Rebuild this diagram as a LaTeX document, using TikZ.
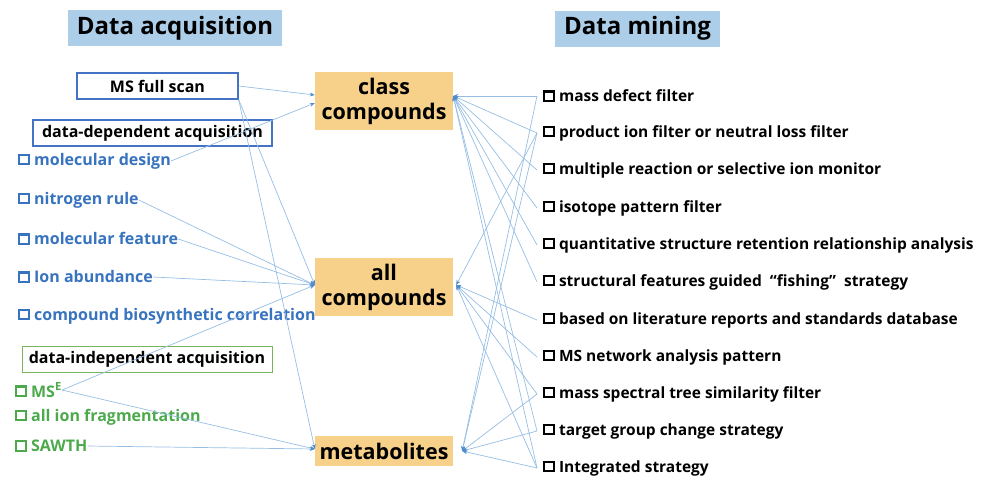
\documentclass[tikz,border=0pt]{standalone}
\usepackage{fontspec}
\setmainfont{Open Sans}
\usetikzlibrary{arrows.meta}
\definecolor{titlebg}{RGB}{173,206,232}
\definecolor{midbg}{RGB}{247,208,138}
\definecolor{bluetxt}{RGB}{55,115,190}
\definecolor{greentxt}{RGB}{76,170,76}
\definecolor{blueframe}{RGB}{68,114,196}
\definecolor{greenframe}{RGB}{120,180,90}
\definecolor{linkc}{RGB}{150,190,228}
\definecolor{tipc}{RGB}{80,140,205}
\newcommand{\sqmark}{\raisebox{0.12em}{\fboxsep=0pt\fboxrule=2.2pt\fbox{\rule{0pt}{7.4pt}\hspace{7.4pt}}}}
\begin{document}
\begin{tikzpicture}[x=1pt,y=-1pt,
  titlebox/.style={fill=titlebg, minimum height=36pt, inner sep=0pt, font=\bfseries\fontsize{24}{28}\selectfont},
  midbox/.style={fill=midbg, inner sep=0pt, align=center, minimum width=138pt, font=\bfseries\fontsize{21.5}{25}\selectfont},
  framebox/.style={draw=blueframe, line width=1.4pt, inner sep=0pt, minimum height=26pt, font=\bfseries\fontsize{16}{18}\selectfont},
  greenbox/.style={draw=greenframe, line width=1pt, inner sep=0pt, minimum height=26pt, font=\bfseries\fontsize{16}{18}\selectfont},
  blueitem/.style={anchor=west, inner sep=0pt, text=bluetxt, font=\bfseries\fontsize{16}{18}\selectfont},
  greenitem/.style={anchor=west, inner sep=0pt, text=greentxt, font=\bfseries\fontsize{16}{18}\selectfont},
  rightitem/.style={anchor=west, inner sep=0pt, font=\bfseries\fontsize{15.5}{18}\selectfont},
  link/.style={draw=linkc, line width=0.7pt, -{Stealth[length=5pt,width=4pt,color=tipc]}},
]
\useasboundingbox (0,0) rectangle (981,479);

% titles
\node[titlebox, minimum width=214pt] (tacq) at (175,28) {Data acquisition};
\node[titlebox, minimum width=165pt] (tmin) at (637.5,28.5) {Data mining};

% acquisition boxes
\node[framebox, minimum width=161pt] (ms) at (157.5,86) {MS full scan};
\node[framebox, minimum width=239pt] (dda) at (152.5,133) {data-dependent acquisition};
\node[greenbox, minimum width=250pt] (dia) at (147,359) {data-independent acquisition};

% blue items
\node[blueitem] (md) at (18,161) {\sqmark\ molecular design};
\node[blueitem] (nr) at (18,200) {\sqmark\ nitrogen rule};
\node[blueitem] (mf) at (18,239) {\sqmark\ molecular feature};
\node[blueitem] (ia) at (18,277) {\sqmark\ Ion abundance};
\node[blueitem] (cb) at (18,316) {\sqmark\ compound biosynthetic correlation};

% green items
\node[greenitem] (mse) at (15,390) {\sqmark\ MS\textsuperscript{E}};
\node[greenitem] (aif) at (15,417) {\sqmark\ all ion fragmentation};
\node[greenitem] (saw) at (15,446) {\sqmark\ SAWTH};

% middle boxes
\node[midbox, minimum height=58pt] (cls) at (384,101) {class\\compounds};
\node[midbox, minimum height=58pt] (all) at (384,287) {all\\compounds};
\node[midbox, minimum height=30pt] (met) at (384,451) {metabolites};

% right items
\node[rightitem] (r1) at (543,96) {\sqmark\ mass defect filter};
\node[rightitem] (r2) at (543,133) {\sqmark\ product ion filter or neutral loss filter};
\node[rightitem] (r3) at (543,170) {\sqmark\ multiple reaction or selective ion monitor};
\node[rightitem] (r4) at (543,208) {\sqmark\ isotope pattern filter};
\node[rightitem] (r5) at (543,245) {\sqmark\ quantitative structure retention relationship analysis};
\node[rightitem] (r6) at (543,282) {\sqmark\ structural features guided \ “fishing” \ strategy};
\node[rightitem] (r7) at (543,320) {\sqmark\ based on literature reports and standards database};
\node[rightitem] (r8) at (543,357) {\sqmark\ MS network analysis pattern};
\node[rightitem] (r9) at (543,394) {\sqmark\ mass spectral tree similarity filter};
\node[rightitem] (r10) at (543,431) {\sqmark\ target group change strategy};
\node[rightitem] (r11) at (543,468) {\sqmark\ Integrated strategy};

% left connectors
\draw[link] (ms.east) -- ([yshift=6pt]cls.west);
\draw[link] (md.east) -- ([yshift=-2pt]cls.west);
\draw[link] (ms.south east) -- ([yshift=2pt]all.west);
\draw[link] (ms.south east) -- ([yshift=2pt]met.west);
\draw[link] (nr.east) -- ([yshift=2pt]all.west);
\draw[link] (mf.east) -- ([yshift=2pt]all.west);
\draw[link] (ia.east) -- ([yshift=2pt]all.west);
\draw[link] (mse.east) -- ([yshift=2pt]all.west);
\draw[link] (mse.east) -- ([yshift=2pt]met.west);
\draw[link] (saw.east) -- ([yshift=2pt]met.west);

% right connectors
\foreach \r in {r1,r2,r3,r4,r5,r6,r10,r11}
  \draw[link] ([xshift=-6pt]\r.west) -- ([yshift=5pt]cls.east);
\foreach \r in {r2,r7,r8,r9,r11}
  \draw[link] ([xshift=-6pt]\r.west) -- ([xshift=3pt,yshift=2pt]all.east);
\foreach \r in {r1,r2,r9,r10,r11}
  \draw[link] ([xshift=-6pt]\r.west) -- ([xshift=9pt]met.east);
\end{tikzpicture}
\end{document}
